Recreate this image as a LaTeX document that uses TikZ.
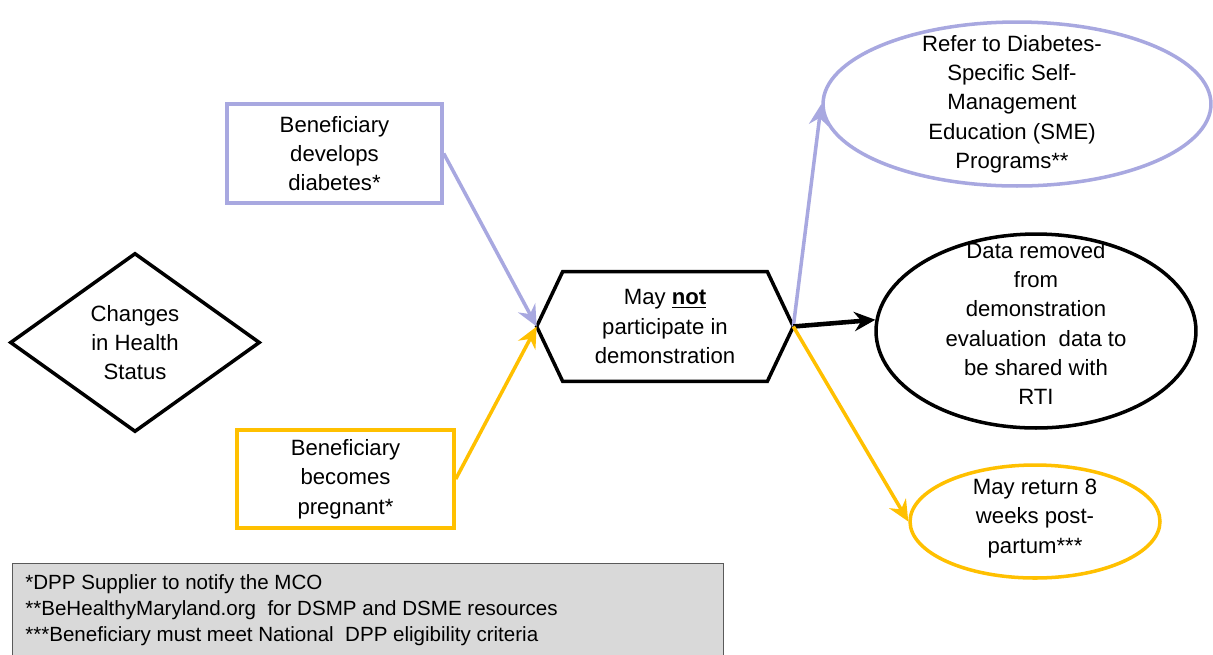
\documentclass[tikz,border=0pt]{standalone}
\usepackage{fontspec}
\setmainfont{Liberation Sans}
\usetikzlibrary{shapes.geometric,arrows.meta}
\definecolor{lav}{RGB}{168,168,224}
\definecolor{gold}{RGB}{255,192,0}
\definecolor{fnfill}{RGB}{217,217,217}
\definecolor{fnline}{RGB}{90,90,90}
\begin{document}
\begin{tikzpicture}[x=0.02cm,y=-0.02cm,
  txt/.style={font=\fontsize{12.6}{16.7}\selectfont, align=center},
  boxnode/.style={txt, draw, line width=2pt, inner sep=0},
  ell/.style={ellipse, draw, line width=2pt, inner sep=0},
  conn/.style={line width=2pt, -{Stealth[length=12pt,width=11pt,inset=4pt]}}
]
\useasboundingbox (0,0) rectangle (1213,654);
\fill[white] (0,0) rectangle (1213,654);

% shapes
\node (diam) [diamond, draw, line width=2pt, inner sep=0, aspect=1.4,
  minimum width=5cm, minimum height=3.58cm, txt] at (135,342.5)
  {Changes\\in Health\\Status};

\node (pbox) [boxnode, draw=lav, minimum width=4.3cm, minimum height=1.98cm]
  at (334.5,153.5) {Beneficiary\\develops\\diabetes*};

\node (ybox) [boxnode, draw=gold, minimum width=4.34cm, minimum height=1.96cm]
  at (345.5,479) {Beneficiary\\becomes\\pregnant*};

\node (hex) [txt, inner sep=0, minimum width=5.12cm, minimum height=2.18cm]
  at (665,326.5) {May \textbf{\underline{not}}\\participate in\\demonstration};
\draw[line width=2pt, line join=miter] (hex.west) -- ([xshift=0.52cm]hex.north west)
  -- ([xshift=-0.52cm]hex.north east) -- (hex.east)
  -- ([xshift=-0.52cm]hex.south east) -- ([xshift=0.52cm]hex.south west) -- cycle;

\node (pell) [ell, draw=lav, minimum width=7.76cm, minimum height=3.28cm] at (1017,104) {};
\node (ptxt) [txt] at (1012,104)
  {Refer to Diabetes-\\Specific Self-\\Management\\Education (SME)\\Programs**};

\node (bell) [ell, draw=black, minimum width=6.4cm, minimum height=3.88cm] at (1036,331) {};
\node (btxt) [txt] at (1036,323.5)
  {Data removed\\from\\demonstration\\evaluation\ \ data to\\be shared with\\RTI};

\node (yell) [ell, draw=gold, minimum width=5cm, minimum height=2.26cm] at (1035,521.5) {};
\node (ytxt) [txt] at (1035,518.5)
  {May return 8\\weeks post-\\partum***};

% connectors
\draw[conn, lav] (pbox.east) -- (hex.west);
\draw[conn, gold] (ybox.east) -- (hex.west);
\draw[conn, lav] (hex.east) -- (pell.west);
\draw[conn, black, line width=2.6pt] (hex.east) -- (bell.176);
\draw[conn, gold] (hex.east) -- (yell.west);

% footnote
\node (fn) [draw=fnline, fill=fnfill, line width=0.8pt, anchor=north west,
  minimum width=14.22cm, minimum height=2.3cm, inner sep=0] at (12,563) {};
\node (fntxt) [anchor=west, align=left, inner sep=0,
  font=\fontsize{11.7}{14.7}\selectfont] at (25,610)
  {*DPP Supplier to notify the MCO\\
   **BeHealthyMaryland.org\ \ for DSMP and DSME resources\\
   ***Beneficiary must meet National\ \ DPP eligibility criteria};
\end{tikzpicture}
\end{document}
